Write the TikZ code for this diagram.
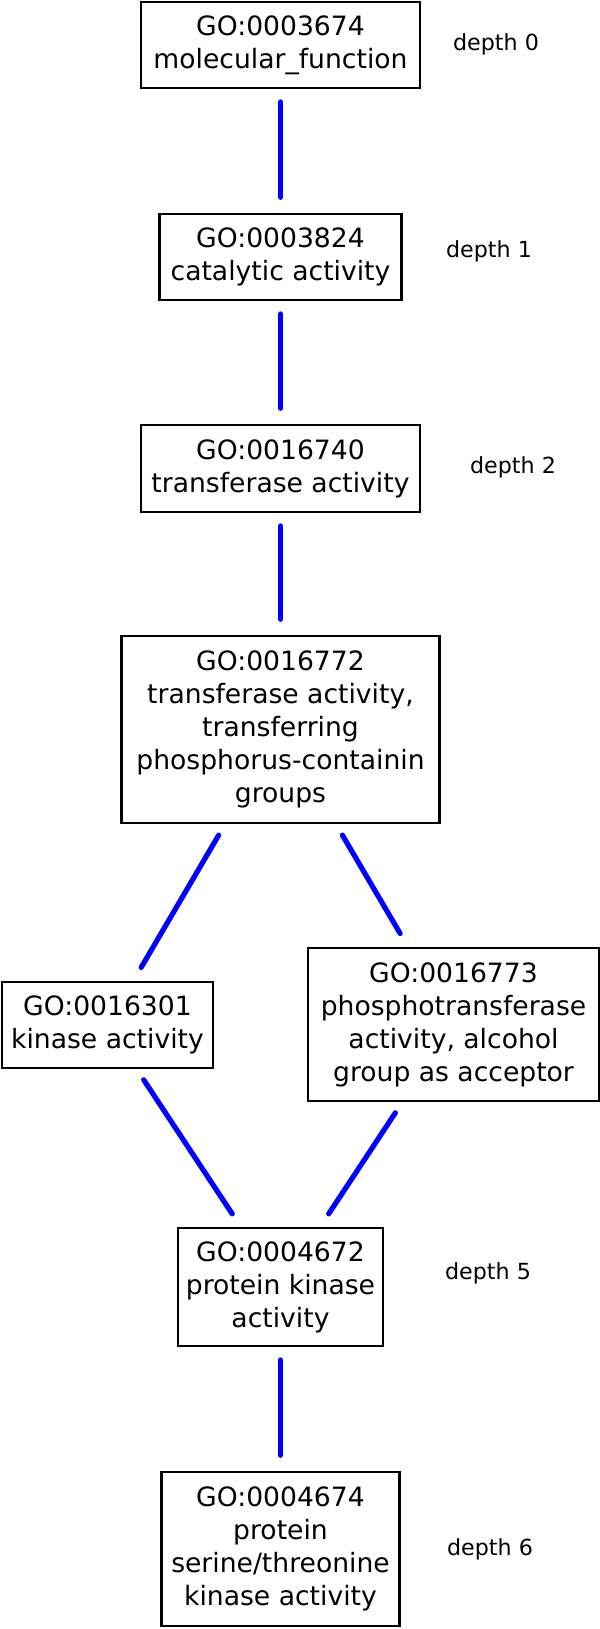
\documentclass[tikz,border=0pt]{standalone}
\usepackage{fontspec}
\setmainfont{DejaVu Sans}
\begin{document}
\begin{tikzpicture}[x=0.5pt,y=-0.5pt,
  gobox/.style={draw=black,line width=1.1pt,inner sep=0pt,align=center,
    font=\fontsize{13.3pt}{16.5pt}\selectfont},
  deplabel/.style={inner sep=0pt,font=\fontsize{11.1pt}{13pt}\selectfont},
  golink/.style={draw=blue,line width=2.6pt,line cap=round,
    shorten <=6.4pt,shorten >=7.8pt}]
\fill[white] (0,0) rectangle (600,1629);
\useasboundingbox (0,0) rectangle (600,1629);

\node[gobox,minimum width=139.5pt,minimum height=43pt] (n0) at (280.5,45)
  {GO:0003674\\molecular\_function};
\node[gobox,minimum width=121pt,minimum height=43pt] (n1) at (280.5,257)
  {GO:0003824\\catalytic activity};
\node[gobox,minimum width=139.5pt,minimum height=43.5pt] (n2) at (280.5,468.5)
  {GO:0016740\\transferase activity};
\node[gobox,minimum width=159pt,minimum height=93.5pt] (n3) at (280.5,729.5)
  {GO:0016772\\transferase activity,\\transferring\\phosphorus-containin\\groups};
\node[gobox,minimum width=105.5pt,minimum height=43pt] (n4) at (107.5,1025)
  {GO:0016301\\kinase activity};
\node[gobox,minimum width=145.5pt,minimum height=76.5pt] (n5) at (453.5,1024.5)
  {GO:0016773\\phosphotransferase\\activity, alcohol\\group as acceptor};
\node[gobox,minimum width=102.5pt,minimum height=59pt] (n6) at (280.5,1287)
  {GO:0004672\\protein kinase\\activity};
\node[gobox,minimum width=119pt,minimum height=77pt] (n7) at (280.5,1549)
  {GO:0004674\\protein\\serine/threonine\\kinase activity};

\node[deplabel] (d0) at (496,44) {depth 0};
\node[deplabel] (d1) at (489,251) {depth 1};
\node[deplabel] (d2) at (513,467) {depth 2};
\node[deplabel] (d5) at (488,1273) {depth 5};
\node[deplabel] (d6) at (490,1549) {depth 6};

\draw[golink] (n0) -- (n1);
\draw[golink] (n1) -- (n2);
\draw[golink] (n2) -- (n3);
\draw[golink] (n3) -- (n4);
\draw[golink] (n3) -- (n5);
\draw[golink] (n4) -- (n6);
\draw[golink] (n5) -- (n6);
\draw[golink] (n6) -- (n7);
\end{tikzpicture}
\end{document}
